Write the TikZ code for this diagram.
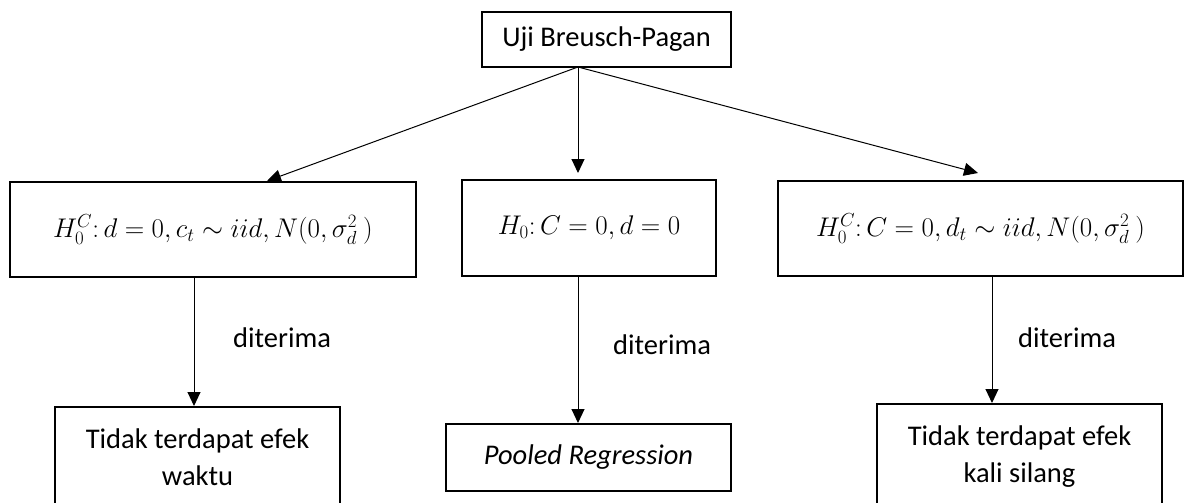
\RequirePackage{fix-cm}
\documentclass[tikz,border=0pt]{standalone}
\usepackage{fontspec}
\setmainfont{Carlito}
\usetikzlibrary{arrows.meta}
\tikzset{
  box/.style={draw, line width=2pt, inner sep=0pt},
  conn/.style={line width=1pt, -{Triangle[length=14pt,width=13pt]}},
  txt/.style={font=\fontsize{28.5}{37}\selectfont, inner sep=0pt, align=center},
  mtxt/.style={font=\fontsize{27}{35}\selectfont, inner sep=0pt, align=center},
  lbl/.style={font=\fontsize{28.5}{37}\selectfont, inner sep=0pt, anchor=base west},
}
\begin{document}
\begin{tikzpicture}[x=1pt,y=-1pt]
\useasboundingbox (0,0) rectangle (1187,503);
\clip (0,0) rectangle (1187,503);
% boxes
\node[box, minimum width=249pt, minimum height=55pt, txt] (top) at (606.5,39.5) {Uji Breusch-Pagan};
\node[box, minimum width=406pt, minimum height=95pt, mtxt] (l) at (213,229.5) {$H_0^C\colon d=0, c_t\sim iid, N(0,\sigma_d^2\ )$};
\node[box, minimum width=254pt, minimum height=96pt, mtxt] (m) at (589,228) {$H_0\colon C=0, d=0$};
\node[box, minimum width=405pt, minimum height=95pt, mtxt] (r) at (980.5,228.5) {$H_0^C\colon C=0, d_t\sim iid, N(0,\sigma_d^2\ )$};
\node[box, minimum width=285pt, minimum height=130pt, anchor=north] (bl) at (197.5,406) {};
\node[txt] (bltxt) at (197.5,457) {Tidak terdapat efek\\waktu};
\node[box, minimum width=285pt, minimum height=67pt, txt] (bm) at (588.5,457.5) {\itshape Pooled Regression};
\node[box, minimum width=285pt, minimum height=130pt, anchor=north] (br) at (1019.5,403) {};
\node[txt] (brtxt) at (1019.5,457) {Tidak terdapat efek\\kali silang};
% connector points
\coordinate (o) at (578,67);
\coordinate (lend) at (267,181);
\coordinate (mend) at (578,173);
\coordinate (rend) at (978,173);
\draw[conn] (o) -- (lend);
\draw[conn] (o) -- (mend);
\draw[conn] (o) -- (rend);
\coordinate (l1) at (194,277);
\coordinate (l2) at (194,406);
\coordinate (m1) at (578,276);
\coordinate (m2) at (578,423);
\coordinate (r1) at (992,276);
\coordinate (r2) at (992,403);
\draw[conn] (l1) -- (l2);
\draw[conn] (m1) -- (m2);
\draw[conn] (r1) -- (r2);
% labels
\node[lbl] (dl) at (233,347) {diterima};
\node[lbl] (dm) at (613,354) {diterima};
\node[lbl] (dr) at (1018,347) {diterima};
\end{tikzpicture}
\end{document}
